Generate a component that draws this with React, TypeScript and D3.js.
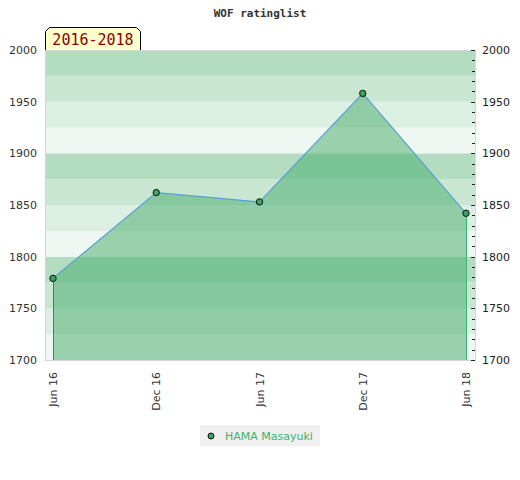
//@ts-nocheck
import React, { useEffect, useRef } from "react";
import * as d3 from "d3";

const periods = ["Jun 16", "Dec 16", "Jun 17", "Dec 17", "Jun 18"];
const ratings = [1779, 1862, 1853, 1958, 1842];
const yTicks = [1700, 1750, 1800, 1850, 1900, 1950, 2000];
const bandColors = ["#b3dcc1", "#c9e6d3", "#dcefe3", "#eef7f1"];
const playerName = "HAMA Masayuki";
const rangeLabel = "2016-2018";
const chartTitle = "WOF ratinglist";

const W = 520;
const H = 480;
const margin = { top: 50, right: 45, bottom: 120, left: 45 };

const App = () => {
  const svgRef = useRef(null);

  useEffect(() => {
    const svg = d3.select(svgRef.current);
    svg.selectAll("*").remove();

    const left = margin.left;
    const right = W - margin.right;
    const top = margin.top;
    const bottom = H - margin.bottom;

    const x = d3.scalePoint().domain(periods).range([left + 8, right - 9]);
    const y = d3.scaleLinear().domain([1700, 2000]).range([bottom, top]);

    // background bands of 25 points
    const bands = d3.range(1700, 2000, 25);
    svg
      .append("g")
      .selectAll("rect")
      .data(bands)
      .join("rect")
      .attr("x", left)
      .attr("width", right - left)
      .attr("y", (d) => y(d + 25))
      .attr("height", (d) => y(d) - y(d + 25))
      .attr("fill", (d) => bandColors[3 - ((d - 1700) / 25) % 4]);

    // plot frame
    svg
      .append("rect")
      .attr("x", left + 0.5)
      .attr("y", top + 0.5)
      .attr("width", right - left)
      .attr("height", bottom - top)
      .attr("fill", "none")
      .attr("stroke", "#d6d6d6");

    const pts = periods.map((p, i) => [x(p), y(ratings[i])]);

    const area = d3
      .area()
      .x((d) => d[0])
      .y0(bottom)
      .y1((d) => d[1]);
    svg
      .append("path")
      .datum(pts)
      .attr("d", area)
      .attr("fill", "#43ac69")
      .attr("fill-opacity", 0.5);

    // vertical edges
    svg
      .append("line")
      .attr("x1", pts[0][0] + 0.5)
      .attr("x2", pts[0][0] + 0.5)
      .attr("y1", pts[0][1])
      .attr("y2", bottom)
      .attr("stroke", "#2f8f50");
    svg
      .append("line")
      .attr("x1", pts[4][0] + 0.5)
      .attr("x2", pts[4][0] + 0.5)
      .attr("y1", pts[4][1])
      .attr("y2", bottom)
      .attr("stroke", "#3cb371");

    svg
      .append("path")
      .datum(pts)
      .attr("d", d3.line())
      .attr("fill", "none")
      .attr("stroke", "#5a9fd4")
      .attr("stroke-width", 1.2);

    svg
      .append("g")
      .selectAll("circle")
      .data(pts)
      .join("circle")
      .attr("cx", (d) => d[0])
      .attr("cy", (d) => d[1])
      .attr("r", 3.2)
      .attr("fill", "#3aa35e")
      .attr("stroke", "#111")
      .attr("stroke-width", 1);

    // left labels
    svg
      .append("g")
      .selectAll("text")
      .data(yTicks)
      .join("text")
      .attr("x", left - 8)
      .attr("y", (d) => y(d) + 4)
      .attr("text-anchor", "end")
      .attr("font-family", "DejaVu Sans")
      .attr("font-size", 11)
      .attr("fill", "#333")
      .text((d) => d);

    // right axis with minor ticks
    const rAxis = svg.append("g");
    rAxis
      .selectAll("line")
      .data(d3.range(1700, 2001, 10))
      .join("line")
      .attr("x1", (d) => (d % 50 === 0 ? right - 4 : right - 3))
      .attr("x2", right)
      .attr("y1", (d) => Math.round(y(d)) + 0.5)
      .attr("y2", (d) => Math.round(y(d)) + 0.5)
      .attr("stroke", "#222");
    rAxis
      .selectAll("text")
      .data(yTicks)
      .join("text")
      .attr("x", right + 7)
      .attr("y", (d) => y(d) + 4)
      .attr("font-family", "DejaVu Sans")
      .attr("font-size", 11)
      .attr("fill", "#222")
      .text((d) => d);

    // x labels rotated
    svg
      .append("g")
      .selectAll("text")
      .data(periods)
      .join("text")
      .attr("transform", (d) => `translate(${x(d) + 4},${bottom + 12}) rotate(-90)`)
      .attr("text-anchor", "end")
      .attr("font-family", "DejaVu Sans")
      .attr("font-size", 11)
      .attr("fill", "#333")
      .text((d) => d);

    // title
    svg
      .append("text")
      .attr("x", W / 2)
      .attr("y", 17)
      .attr("text-anchor", "middle")
      .attr("font-family", "DejaVu Sans Mono")
      .attr("font-weight", "bold")
      .attr("font-size", 11)
      .attr("fill", "#333")
      .text(chartTitle);

    // range label box
    const bx = left, by = 27, bw = 96, bh = 23, c = 4;
    svg
      .append("path")
      .attr(
        "d",
        `M${bx + 0.5},${by + bh} L${bx + 0.5},${by + c + 0.5} L${bx + c + 0.5},${by + 0.5} L${bx + bw - c - 0.5},${by + 0.5} L${bx + bw - 0.5},${by + c + 0.5} L${bx + bw - 0.5},${by + bh}`
      )
      .attr("fill", "#ffffcc")
      .attr("stroke", "#000");
    svg
      .append("text")
      .attr("x", bx + bw / 2)
      .attr("y", by + 18)
      .attr("text-anchor", "middle")
      .attr("font-family", "DejaVu Sans Mono")
      .attr("font-size", 15)
      .attr("fill", "#8b0000")
      .text(rangeLabel);

    // legend
    const lg = svg.append("g").attr("transform", "translate(200,425)");
    lg.append("rect").attr("width", 120).attr("height", 21).attr("fill", "#f0f0f0");
    lg.append("circle")
      .attr("cx", 11)
      .attr("cy", 11)
      .attr("r", 3)
      .attr("fill", "#3aa35e")
      .attr("stroke", "#111");
    lg.append("text")
      .attr("x", 25)
      .attr("y", 15)
      .attr("font-family", "DejaVu Sans")
      .attr("font-size", 11)
      .attr("fill", "#3cb371")
      .text(playerName);
  }, []);

  return (
    <svg
      ref={svgRef}
      width={W}
      height={H}
      style={{ display: "block", margin: -8, background: "#fff" }}
    />
  );
};

export default App;
